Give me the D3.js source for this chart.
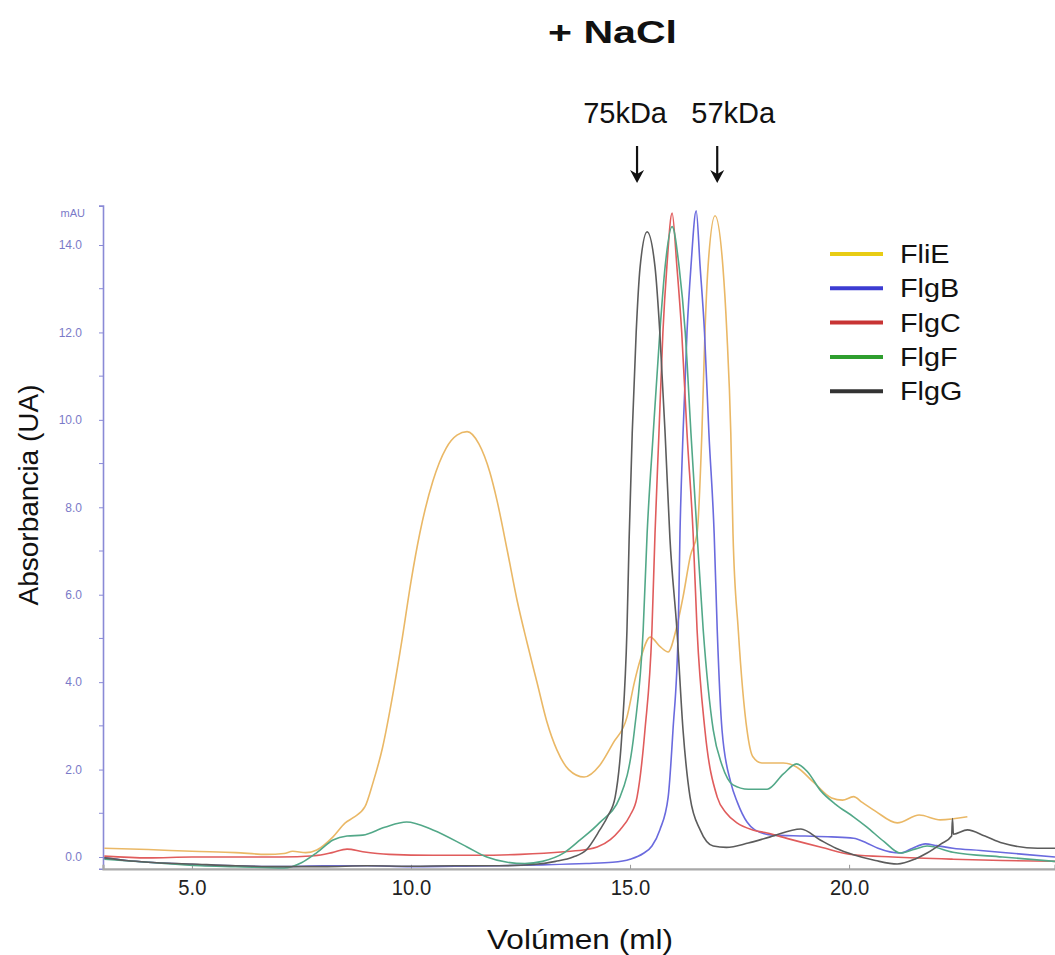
<!DOCTYPE html>
<meta charset="utf-8" />
<style>
  body { margin: 0; background: #fff; }
  svg { display: block; font-family: Arial, "Liberation Sans", sans-serif; }
  .curve { fill: none; stroke-width: 1.6px; stroke-linejoin: round; }
</style>
<body>
<script src="https://d3js.org/d3.v7.min.js"></script>
<script>
  // elution volume (ml) vs absorbance (mAU)
  var fliE = [[3.0,0.2],[4.0,0.17],[5.0,0.13],[6.0,0.1],[6.7,0.06],[7.1,0.08],[7.3,0.13],[7.6,0.1],[7.85,0.16],
    [8.22,0.46],[8.5,0.78],[8.68,0.9],[8.95,1.15],[9.13,1.69],[9.35,2.5],[9.6,3.8],[9.8,5.0],[10.0,6.3],[10.2,7.4],
    [10.5,8.6],[10.8,9.35],[11.05,9.65],[11.28,9.73],[11.55,9.45],[11.8,8.8],[11.96,8.17],[12.2,7.0],[12.42,5.88],
    [12.65,4.9],[12.88,3.98],[13.1,3.1],[13.33,2.45],[13.6,2.0],[13.95,1.83],[14.31,2.1],[14.61,2.6],[14.93,3.2],
    [15.1,4.0],[15.23,4.5],[15.46,5.03],[15.7,4.8],[15.87,4.69],[16.05,5.2],[16.21,5.95],[16.38,6.9],[16.53,7.4],
    [16.64,9.7],[16.71,12.0],[16.78,13.5],[16.94,14.67],[17.12,13.5],[17.21,12.0],[17.3,9.7],[17.35,7.4],[17.47,5.2],
    [17.67,2.9],[17.8,2.3],[18.01,2.15],[18.5,2.15],[18.8,2.06],[19.2,1.7],[19.6,1.35],[19.85,1.3],[20.1,1.38],
    [20.3,1.25],[20.6,1.05],[21.1,0.78],[21.6,0.96],[22.08,0.85],[22.7,0.92]];

  var flgB = [[3.0,-0.02],[3.5,-0.08],[4.0,-0.12],[5.0,-0.17],[6.0,-0.2],[7.0,-0.22],[8.0,-0.2],[9.0,-0.2],
    [10.0,-0.22],[11.0,-0.21],[12.0,-0.2],[13.0,-0.18],[14.0,-0.15],[14.6,-0.12],[15.0,-0.05],[15.3,0.08],[15.5,0.25],
    [15.68,0.62],[15.87,1.37],[15.98,2.9],[16.1,5.2],[16.14,7.4],[16.21,9.7],[16.3,12.0],[16.39,13.5],[16.51,14.78],
    [16.6,13.5],[16.7,12.0],[16.8,9.7],[16.92,7.4],[16.99,5.2],[17.1,2.9],[17.3,1.7],[17.45,1.25],[17.67,0.8],
    [17.85,0.62],[18.26,0.5],[19.0,0.48],[19.6,0.46],[20.1,0.43],[20.4,0.32],[20.66,0.2],[21.17,0.09],[21.45,0.2],
    [21.74,0.3],[22.0,0.26],[22.37,0.2],[23.0,0.15],[24.0,0.06],[24.7,0.0]];

  var flgC = [[3.0,0.02],[4.0,-0.02],[5.0,0.0],[6.0,0.0],[7.0,0.0],[7.8,0.03],[8.2,0.1],[8.54,0.18],[8.9,0.12],
    [9.5,0.06],[10.5,0.04],[11.5,0.04],[12.5,0.06],[13.5,0.12],[14.0,0.17],[14.25,0.23],[14.55,0.4],[14.77,0.62],
    [15.0,0.95],[15.16,1.37],[15.34,2.9],[15.5,5.2],[15.57,7.4],[15.66,9.7],[15.75,12.0],[15.84,13.5],[15.96,14.73],
    [16.07,13.5],[16.18,12.0],[16.3,9.7],[16.44,7.4],[16.53,5.2],[16.71,2.9],[16.99,1.37],[17.2,1.0],[17.44,0.78],
    [17.8,0.62],[18.13,0.55],[18.6,0.42],[19.34,0.23],[20.1,0.05],[21.0,0.0],[22.37,-0.05],[23.5,-0.08],[24.7,-0.1]];

  var flgF = [[3.0,-0.05],[4.0,-0.12],[5.2,-0.2],[6.0,-0.22],[7.1,-0.25],[7.5,-0.13],[7.85,0.1],[8.22,0.39],
    [8.54,0.48],[8.9,0.5],[9.4,0.68],[9.9,0.8],[10.5,0.62],[11.28,0.23],[11.73,0.0],[12.2,-0.12],[12.6,-0.15],
    [13.0,-0.1],[13.5,0.1],[13.86,0.39],[14.3,0.78],[14.77,1.37],[15.1,2.9],[15.3,5.2],[15.39,7.4],[15.53,9.7],
    [15.68,12.0],[15.8,13.5],[15.96,14.42],[16.12,13.5],[16.26,12.0],[16.39,9.7],[16.53,7.4],[16.67,5.2],[16.9,2.9],
    [17.1,2.1],[17.35,1.65],[17.7,1.55],[18.13,1.55],[18.5,1.9],[18.8,2.13],[19.05,1.95],[19.34,1.53],[19.7,1.2],
    [20.1,0.92],[20.4,0.69],[20.8,0.35],[21.17,0.09],[21.5,0.18],[21.78,0.25],[22.37,0.11],[23.5,0.0],[24.7,-0.1]];

  var flgG = [[3.0,-0.02],[3.5,-0.08],[4.0,-0.12],[5.0,-0.16],[6.0,-0.2],[7.0,-0.22],[8.0,-0.22],[9.0,-0.2],
    [10.0,-0.21],[11.0,-0.2],[12.0,-0.2],[12.8,-0.17],[13.3,-0.1],[13.7,0.0],[14.0,0.16],[14.31,0.62],[14.5,0.95],
    [14.66,1.37],[14.82,2.9],[14.93,5.2],[14.98,7.3],[15.05,9.7],[15.14,12.0],[15.23,13.5],[15.39,14.3],[15.57,13.5],
    [15.68,12.0],[15.8,9.7],[15.91,7.3],[16.07,5.2],[16.21,2.9],[16.37,1.37],[16.6,0.62],[16.9,0.25],[17.2,0.22],
    [17.7,0.32],[18.2,0.46],[18.9,0.64],[19.34,0.39],[19.7,0.2],[20.1,0.05],[20.6,-0.08],[21.1,-0.16],[21.5,-0.05],
    [21.78,0.09],[22.1,0.3],[22.34,0.48],[22.36,0.88],[22.38,0.52],[22.7,0.62],[23.1,0.48],[23.5,0.32],[24.3,0.2],
    [24.7,0.2]];

  var names = ['FliE', 'FlgB', 'FlgC', 'FlgF', 'FlgG'];
  var lineColors = ['#eab866', '#6a6ade', '#e05c5c', '#52a888', '#5c5c5c'];
  var legendColors = ['#e8cc14', '#3c3cd2', '#c83434', '#2e9e2e', '#333333'];
  var xTicks = [5, 10, 15, 20];
  var yTicks = [0, 2, 4, 6, 8, 10, 12, 14];
  var yMinor = [1, 3, 5, 7, 9, 11, 13];
  var markerLabels = ['75kDa', '57kDa'];
  var markerVolumes = [15.16, 16.99];

  var series = [fliE, flgB, flgC, flgF, flgG];

  var W = 1055, H = 955;
  var svg = d3.select('body').append('svg').attr('width', W).attr('height', H);

  var x = d3.scaleLinear().domain([2.97, 24.7]).range([103, 1055]);
  var k = (857 - 245) / 14;
  var y = d3.scaleLinear().domain([-0.27, 14.9]).range([857 + 0.27 * k, 857 - 14.9 * k]);

  // y axis (purple, instrument style)
  var yAxis = svg.append('g').attr('transform', 'translate(103,0)')
    .call(d3.axisLeft(y).tickValues(yTicks).tickFormat(d3.format('.1f')).tickSize(4).tickPadding(17));
  yAxis.select('.domain').attr('stroke', '#8a8ad6').attr('stroke-width', 1.6);
  yAxis.selectAll('.tick line').attr('stroke', '#8a8ad6');
  yAxis.selectAll('.tick text').attr('fill', '#7a7ac8').style('font-size', '12px')
    .style('font-family', 'Arial, "Liberation Sans", sans-serif');
  svg.append('g').selectAll('line').data(yMinor).join('line')
    .attr('x1', 99).attr('x2', 103).attr('y1', d => y(d)).attr('y2', d => y(d))
    .attr('stroke', '#8a8ad6');
  svg.append('text').attr('x', 85).attr('y', 217).attr('text-anchor', 'end')
    .attr('fill', '#7a7ac8').style('font-size', '11px').text('mAU');

  // x axis
  var xAxis = svg.append('g').attr('transform', 'translate(0,' + y(-0.27) + ')')
    .call(d3.axisBottom(x).tickValues(xTicks).tickFormat(d3.format('.1f')).tickSize(-4).tickPadding(14));
  xAxis.select('.domain').attr('stroke', '#a8a8a8').attr('stroke-width', 2.2);
  xAxis.selectAll('.tick line').attr('stroke', '#999');
  xAxis.selectAll('.tick text').attr('fill', '#222').style('font-size', '22px')
    .style('font-family', 'Arial, "Liberation Sans", sans-serif')
    .attr('dy', '0.55em').attr('transform', 'scale(0.92,1)');

  // curves
  var line = d3.line().x(d => x(d[0])).y(d => y(d[1])).curve(d3.curveMonotoneX);
  svg.append('g').selectAll('path').data(series).join('path')
    .attr('class', 'curve')
    .attr('stroke', (d, i) => lineColors[i])
    .attr('d', line);

  // titles
  svg.append('text').attr('x', 548).attr('y', 43)
    .attr('textLength', 129).attr('lengthAdjust', 'spacingAndGlyphs')
    .style('font-size', '31px').style('font-weight', 'bold').attr('fill', '#111').text('+ NaCl');
  svg.append('text').attr('x', 487).attr('y', 949)
    .attr('textLength', 186).attr('lengthAdjust', 'spacingAndGlyphs')
    .style('font-size', '28px').attr('fill', '#111').text('Volúmen (ml)');
  svg.append('text').attr('transform', 'translate(38,495) rotate(-90)').attr('text-anchor', 'middle')
    .style('font-size', '28px').attr('fill', '#111').text('Absorbancia (UA)');

  // size marker labels and arrows
  var labelDx = [-12, 16];
  var mk = svg.append('g').selectAll('g').data(markerVolumes).join('g');
  mk.append('text').attr('x', (d, i) => x(d) + labelDx[i]).attr('y', 123).attr('text-anchor', 'middle')
    .style('font-size', '29px').attr('fill', '#111').text((d, i) => markerLabels[i]);
  mk.append('line').attr('x1', d => x(d)).attr('x2', d => x(d)).attr('y1', 146).attr('y2', 178)
    .attr('stroke', '#111').attr('stroke-width', 2.2);
  mk.append('path').attr('d', d => 'M' + (x(d) - 7) + ',170 L' + x(d) + ',183 L' + (x(d) + 7) + ',170 L' + x(d) + ',174 Z')
    .attr('fill', '#111');

  // legend
  var lg = svg.append('g').selectAll('g').data(names).join('g')
    .attr('transform', (d, i) => 'translate(830,' + (254 + i * 34.3) + ')');
  lg.append('line').attr('x1', 0).attr('x2', 53).attr('stroke', (d, i) => legendColors[i]).attr('stroke-width', 4);
  lg.append('text').attr('transform', 'translate(70,9) scale(1.15,1)').style('font-size', '25px')
    .attr('fill', '#111').text(d => d);
</script>
</body>
